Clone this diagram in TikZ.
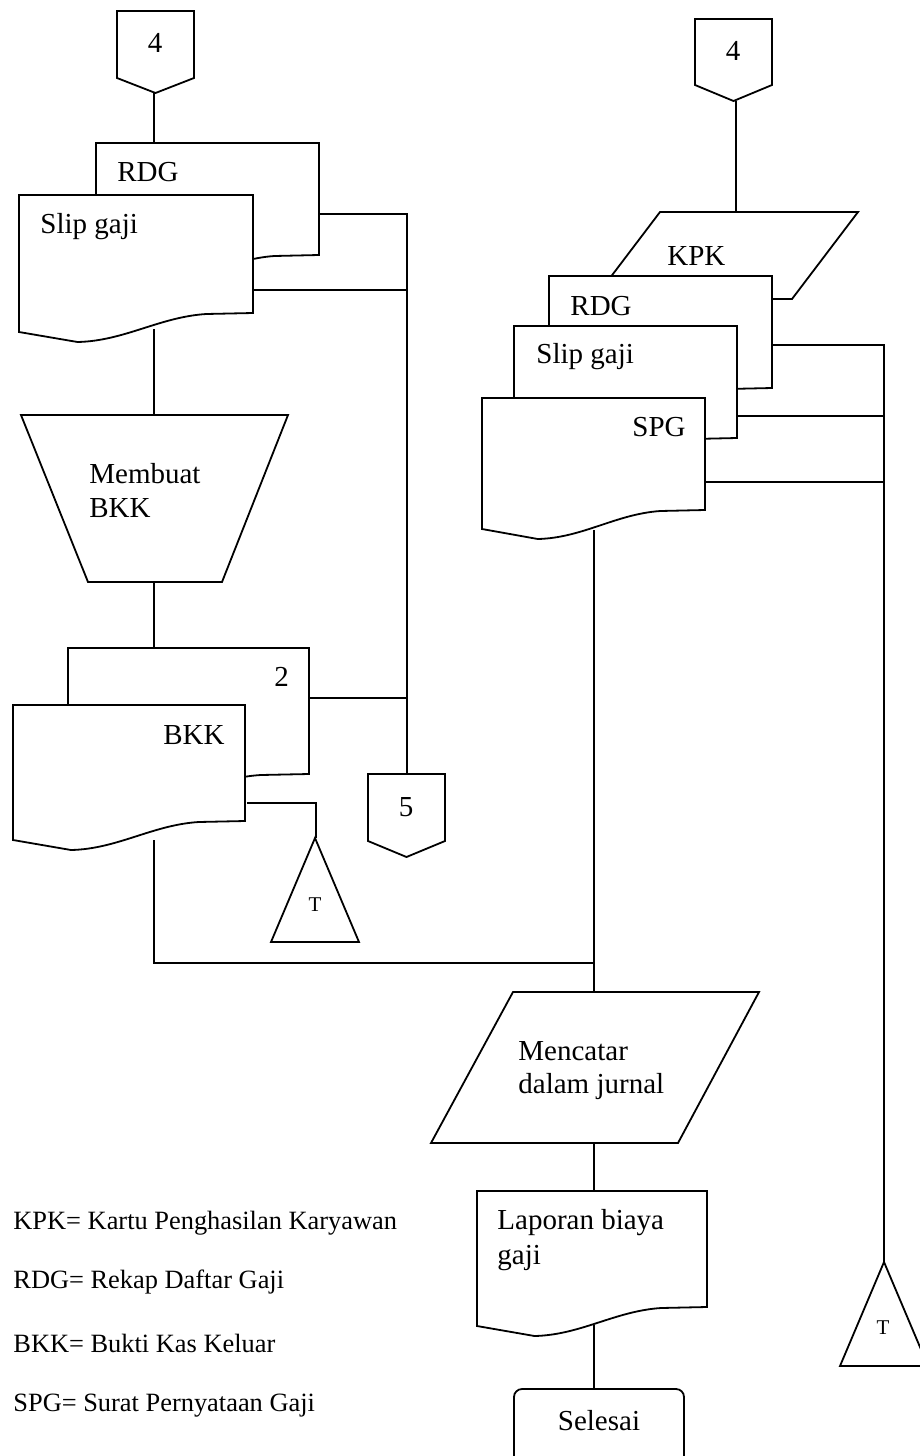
\documentclass[tikz,border=0pt]{standalone}
\usepackage{fontspec}
\setmainfont{Liberation Serif}
\pgfdeclarelayer{bg}
\pgfsetlayers{bg,main}
\tikzset{
  shp/.style={draw=black, fill=white, line width=0.9pt, line join=miter},
  con/.style={draw=black, line width=0.9pt},
  lbl/.style={inner sep=0pt, anchor=base west, font=\fontsize{14.5}{17}\selectfont},
  lblc/.style={inner sep=0pt, anchor=base, font=\fontsize{14.5}{17}\selectfont},
  small/.style={inner sep=0pt, anchor=base, font=\fontsize{10.5}{12}\selectfont},
  legend/.style={inner sep=0pt, anchor=base west, font=\fontsize{13.2}{15}\selectfont},
}
% document shape: x1, x2, ytop, yright
\newcommand{\docshape}[4]{%
  \path[shp] (#1,#3) -- (#2,#3) -- (#2,#4)
    -- ({#2-0.2*(#2-#1)},{#4+1})
    .. controls ({#2-0.4*(#2-#1)},{#4+4}) and ({#1+0.45*(#2-#1)},{#4+28}) ..
       ({#1+0.25*(#2-#1)},{#4+29})
    -- (#1,{#4+19}) -- cycle;}
% off-page connector: x1, x2, ytop, yside, ypoint
\newcommand{\offpage}[5]{%
  \path[shp] (#1,#3) -- (#2,#3) -- (#2,#4) -- ({(#1+#2)/2},#5) -- (#1,#4) -- cycle;}
\begin{document}
\begin{tikzpicture}[x=0.5pt,y=-0.5pt]
\useasboundingbox (0,0) rectangle (920,1456);

% ---------- named coordinates ----------
\coordinate (c4Lb) at (154,93);
\coordinate (rdgLt) at (154,143);
\coordinate (rdgLr) at (319,214);
\coordinate (slipLr) at (253,290);
\coordinate (vL1) at (407,214);
\coordinate (vL2) at (407,290);
\coordinate (vL3) at (407,698);
\coordinate (c5t) at (407,774);
\coordinate (slipLb) at (154,329);
\coordinate (trapT) at (154,415);
\coordinate (trapB) at (154,582);
\coordinate (twoT) at (154,648);
\coordinate (twoR) at (309,698);
\coordinate (bkkR) at (247,803);
\coordinate (bkkRc) at (316,803);
\coordinate (tLa) at (316,838);
\coordinate (bkkB) at (154,840);
\coordinate (jL) at (154,963);
\coordinate (jR) at (594,963);
\coordinate (c4Rb) at (736,101);
\coordinate (kpkT) at (736,212);
\coordinate (rdgRr) at (772,345);
\coordinate (slipRr) at (737,416);
\coordinate (spgRr) at (705,482);
\coordinate (vR1) at (884,345);
\coordinate (vR2) at (884,416);
\coordinate (vR3) at (884,482);
\coordinate (tRa) at (884,1262);
\coordinate (spgB) at (594,530);
\coordinate (mcT) at (594,992);
\coordinate (mcB) at (594,1143);
\coordinate (lapT) at (594,1191);
\coordinate (lapB) at (594,1325);
\coordinate (selT) at (594,1389);

% ---------- connectors ----------
\begin{pgfonlayer}{bg}
\draw[con] (c4Lb) -- (rdgLt);
\draw[con] (rdgLr) -- (vL1) -- (c5t);
\draw[con] (slipLr) -- (vL2);
\draw[con] (twoR) -- (vL3);
\draw[con] (slipLb) -- (trapT);
\draw[con] (trapB) -- (twoT);
\draw[con] (bkkR) -- (bkkRc) -- (tLa);
\draw[con] (bkkB) -- (jL) -- (jR);
\draw[con] (c4Rb) -- (kpkT);
\draw[con] (rdgRr) -- (vR1) -- (tRa);
\draw[con] (slipRr) -- (vR2);
\draw[con] (spgRr) -- (vR3);
\draw[con] (spgB) -- (jR) -- (mcT);
\draw[con] (mcB) -- (lapT);
\draw[con] (lapB) -- (selT);
\end{pgfonlayer}

% ---------- left column ----------
\offpage{117}{194}{11}{78}{93}
\node[lblc] (n4L) at (155,52) {4};

\docshape{96}{319}{143}{255}
\node[lbl] (tRDGL) at (117,181) {RDG};
\docshape{19}{253}{195}{313}
\node[lbl] (tSlipL) at (40,233) {Slip gaji};

\path[shp] (21,415) -- (288,415) -- (222,582) -- (88,582) -- cycle;
\node[lbl] (tMemb1) at (89,483) {Membuat};
\node[lbl] (tMemb2) at (89,517) {BKK};

\docshape{68}{309}{648}{774}
\node[lbl] (tTwo) at (274,686) {2};
\docshape{13}{245}{705}{821}
\node[lbl] (tBKK) at (163,744) {BKK};

\offpage{368}{445}{774}{841}{857}
\node[lblc] (n5) at (406,816) {5};

\path[shp] (315,838) -- (359,942) -- (271,942) -- cycle;
\node[small] (tTL) at (315,911) {T};

% ---------- right column ----------
\offpage{695}{772}{19}{85}{101}
\node[lblc] (n4R) at (733,60) {4};

\path[shp] (660,212) -- (858,212) -- (792,299) -- (594,299) -- cycle;
\node[lbl] (tKPK) at (667,265) {KPK};

\docshape{549}{772}{276}{388}
\node[lbl] (tRDGR) at (570,315) {RDG};
\docshape{514}{737}{326}{438}
\node[lbl] (tSlipR) at (536,363) {Slip gaji};
\docshape{482}{705}{398}{510}
\node[lbl] (tSPG) at (632,436) {SPG};

\path[shp] (513,992) -- (759,992) -- (678,1143) -- (431,1143) -- cycle;
\node[lbl] (tMc1) at (518,1060) {Mencatar};
\node[lbl] (tMc2) at (518,1093) {dalam jurnal};

\docshape{477}{707}{1191}{1307}
\node[lbl] (tLap1) at (497,1229) {Laporan biaya};
\node[lbl] (tLap2) at (497,1264) {gaji};

\path[shp, rounded corners=4pt] (514,1389) rectangle (684,1480);
\node[lblc] (tSel) at (599,1430) {Selesai};

\path[shp] (884,1262) -- (928,1366) -- (840,1366) -- cycle;
\node[small] (tTR) at (883,1334) {T};

% ---------- legend ----------
\node[legend] (lg1) at (13,1229) {KPK= Kartu Penghasilan Karyawan};
\node[legend] (lg2) at (13,1288) {RDG= Rekap Daftar Gaji};
\node[legend] (lg3) at (13,1352) {BKK= Bukti Kas Keluar};
\node[legend] (lg4) at (13,1411) {SPG= Surat Pernyataan Gaji};
\end{tikzpicture}
\end{document}
